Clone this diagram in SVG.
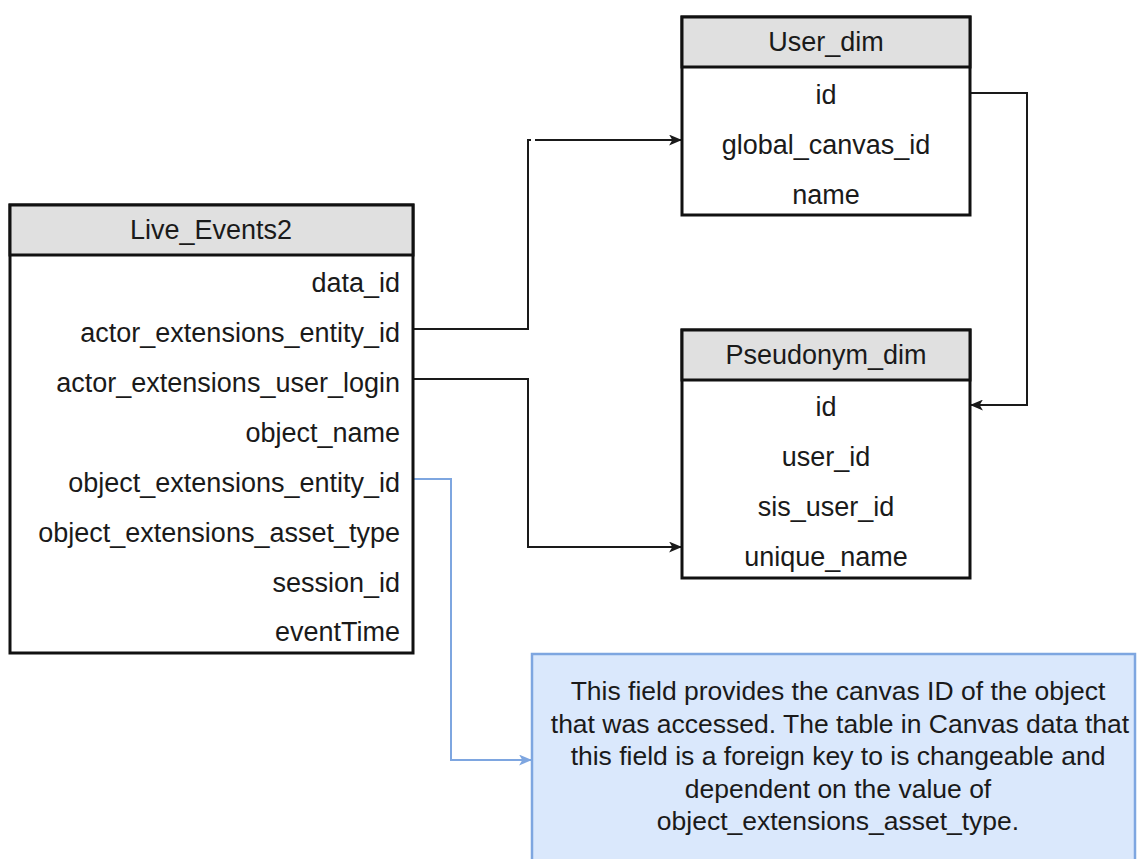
<svg xmlns="http://www.w3.org/2000/svg" width="1137" height="859" viewBox="0 0 1137 859">
  <style>
    .tbl { fill: #ffffff; stroke: #111111; stroke-width: 3; }
    .hdr { fill: #e0e0e0; stroke: #111111; stroke-width: 3; }
    .t { font-family: "Liberation Sans", Arial, sans-serif; font-size: 27px; fill: #1a1a1a; }
    .r { text-anchor: end; }
    .c { text-anchor: middle; }
    .edge { fill: none; stroke: #1a1a1a; stroke-width: 2; }
    .blue { fill: none; stroke: #7ea6e0; stroke-width: 2; }
    .note { fill: #dae8fc; stroke: #7ea6e0; stroke-width: 2.5; }
    .nt { font-family: "Liberation Sans", Arial, sans-serif; font-size: 26.5px; fill: #1a1a1a; text-anchor: middle; }
  </style>
  <defs>
    <marker id="arrowBlack" viewBox="0 0 12 10" refX="11" refY="5" markerWidth="13" markerHeight="11" markerUnits="userSpaceOnUse" orient="auto">
      <path d="M0,0 L12,5 L0,10 L3,5 Z" fill="#1a1a1a"/>
    </marker>
    <marker id="arrowBlue" viewBox="0 0 12 10" refX="11" refY="5" markerWidth="13" markerHeight="11" markerUnits="userSpaceOnUse" orient="auto">
      <path d="M0,0 L12,5 L0,10 L3,5 Z" fill="#7ea6e0"/>
    </marker>
  </defs>

  <rect width="1137" height="859" fill="#ffffff"/>

  <!-- relationship lines -->
  <g id="connectors">
    <path class="edge" d="M413,329 H528 V140 H531"/>
    <path class="edge" d="M535,140 H681" marker-end="url(#arrowBlack)"/>
    <path class="edge" d="M413,379 H528 V547 H681" marker-end="url(#arrowBlack)"/>
    <path class="edge" d="M970,93 H1027 V405 H971" marker-end="url(#arrowBlack)"/>
    <path class="blue" d="M413,479 H451 V760 H531" marker-end="url(#arrowBlue)"/>
  </g>

  <!-- fact table -->
  <g id="live-events2">
    <rect class="tbl" x="10" y="205" width="403" height="448"/>
    <rect class="hdr" x="10" y="205" width="403" height="50"/>
    <text class="t c" x="211" y="239">Live_Events2</text>
    <text class="t r" x="400" y="292">data_id</text>
    <text class="t r" x="400" y="342">actor_extensions_entity_id</text>
    <text class="t r" x="400" y="392">actor_extensions_user_login</text>
    <text class="t r" x="400" y="442">object_name</text>
    <text class="t r" x="400" y="492">object_extensions_entity_id</text>
    <text class="t r" x="400" y="542">object_extensions_asset_type</text>
    <text class="t r" x="400" y="592">session_id</text>
    <text class="t r" x="400" y="641">eventTime</text>
  </g>

  <!-- user dimension -->
  <g id="user-dim">
    <rect class="tbl" x="682" y="17" width="288" height="198"/>
    <rect class="hdr" x="682" y="17" width="288" height="50"/>
    <text class="t c" x="826" y="51">User_dim</text>
    <text class="t c" x="826" y="104">id</text>
    <text class="t c" x="826" y="154">global_canvas_id</text>
    <text class="t c" x="826" y="204">name</text>
  </g>

  <!-- pseudonym dimension -->
  <g id="pseudonym-dim">
    <rect class="tbl" x="682" y="330" width="288" height="248"/>
    <rect class="hdr" x="682" y="330" width="288" height="50"/>
    <text class="t c" x="826" y="364">Pseudonym_dim</text>
    <text class="t c" x="826" y="416">id</text>
    <text class="t c" x="826" y="466">user_id</text>
    <text class="t c" x="826" y="516">sis_user_id</text>
    <text class="t c" x="826" y="566">unique_name</text>
  </g>

  <!-- explanatory note -->
  <g id="note">
    <rect class="note" x="532" y="654" width="603" height="220"/>
    <text class="nt" x="838" y="700">This field provides the canvas ID of the object</text>
    <text class="nt" x="840" y="733">that was accessed. The table in Canvas data that</text>
    <text class="nt" x="838" y="765">this field is a foreign key to is changeable and</text>
    <text class="nt" x="838" y="798">dependent on the value of</text>
    <text class="nt" x="838" y="830">object_extensions_asset_type.</text>
  </g>
</svg>
